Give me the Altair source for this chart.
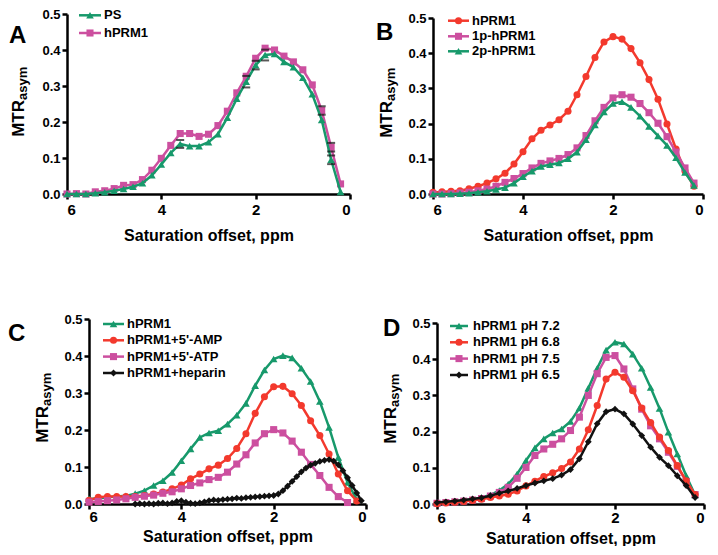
import altair as alt
import pandas as pd

# ---------------- data ----------------
X = [6.0, 5.8, 5.6, 5.4, 5.2, 5.0, 4.8, 4.6, 4.4, 4.2, 4.0, 3.8, 3.6, 3.4, 3.2,
     3.0, 2.8, 2.6, 2.4, 2.2, 2.0, 1.8, 1.6, 1.4, 1.2, 1.0, 0.8, 0.6, 0.4, 0.2]

# Panel A
A_PS = [0.000, 0.000, 0.000, 0.002, 0.005, 0.009, 0.014, 0.020, 0.030, 0.052, 0.082, 0.114, 0.139, 0.133, 0.133,
        0.144, 0.166, 0.212, 0.265, 0.312, 0.358, 0.386, 0.389, 0.367, 0.352, 0.323, 0.277, 0.206, 0.095, 0.006]
A_PS_ERR = [0, 0, 0, 0, 0, 0, 0, 0, 0, 0, 0, 0, 0.011, 0, 0,
            0, 0, 0, 0, 0.016, 0.012, 0.015, 0, 0, 0, 0, 0, 0, 0.012, 0]
A_HPRM1 = [0.000, 0.001, 0.000, 0.006, 0.009, 0.015, 0.024, 0.026, 0.040, 0.066, 0.099, 0.135, 0.168, 0.168, 0.160,
           0.166, 0.190, 0.230, 0.281, 0.327, 0.377, 0.405, 0.400, 0.383, 0.367, 0.345, 0.303, 0.232, 0.130, 0.028]
A_HPRM1_ERR = [0, 0, 0, 0, 0, 0, 0, 0, 0, 0, 0, 0, 0, 0, 0,
               0, 0, 0, 0, 0, 0, 0, 0, 0, 0, 0, 0, 0.012, 0.012, 0]

# Panel B
B_HPRM1 = [0.005, 0.006, 0.008, 0.009, 0.015, 0.022, 0.031, 0.043, 0.059, 0.085, 0.120, 0.157, 0.181, 0.196, 0.211,
           0.235, 0.282, 0.334, 0.388, 0.432, 0.447, 0.440, 0.413, 0.373, 0.325, 0.269, 0.199, 0.128, 0.065, 0.022]
B_1P = [0.000, 0.000, 0.001, 0.003, 0.005, 0.009, 0.014, 0.022, 0.033, 0.044, 0.058, 0.074, 0.087, 0.094, 0.101,
        0.112, 0.131, 0.166, 0.208, 0.246, 0.273, 0.282, 0.275, 0.257, 0.231, 0.201, 0.163, 0.119, 0.074, 0.031]
B_2P = [0.000, 0.000, 0.000, 0.001, 0.002, 0.005, 0.008, 0.013, 0.018, 0.031, 0.049, 0.065, 0.078, 0.083, 0.088,
        0.100, 0.119, 0.154, 0.196, 0.233, 0.257, 0.262, 0.246, 0.221, 0.192, 0.165, 0.138, 0.103, 0.061, 0.024]

# Panel C
C_HPRM1 = [0.014, 0.015, 0.018, 0.020, 0.022, 0.028, 0.036, 0.050, 0.063, 0.085, 0.117, 0.149, 0.180, 0.192, 0.198,
           0.216, 0.240, 0.272, 0.320, 0.362, 0.392, 0.401, 0.395, 0.367, 0.331, 0.277, 0.207, 0.126, 0.058, 0.012]
C_AMP = [0.010, 0.018, 0.020, 0.020, 0.020, 0.020, 0.023, 0.027, 0.032, 0.041, 0.051, 0.068, 0.081, 0.095, 0.105,
         0.123, 0.150, 0.190, 0.245, 0.290, 0.317, 0.318, 0.298, 0.266, 0.225, 0.185, 0.135, 0.081, 0.036, 0.008]
X_ATP = [6.0, 5.8, 5.6, 5.4, 5.2, 5.0, 4.8, 4.6, 4.4, 4.2, 4.0, 3.8, 3.6, 3.4, 3.2,
         3.0, 2.8, 2.6, 2.4, 2.2, 2.0, 1.8, 1.6, 1.4, 1.2, 1.0, 0.8, 0.6, 0.4]
C_ATP = [0.005, 0.007, 0.009, 0.011, 0.014, 0.018, 0.021, 0.024, 0.029, 0.033, 0.041, 0.050, 0.057, 0.066, 0.072,
         0.086, 0.108, 0.133, 0.165, 0.190, 0.201, 0.192, 0.170, 0.140, 0.107, 0.077, 0.045, 0.020, 0.004]
X_HEP = [5.0, 4.9, 4.8, 4.7, 4.6, 4.5, 4.4, 4.3, 4.2, 4.1, 4.0, 3.9, 3.8, 3.7, 3.6, 3.5, 3.4, 3.3, 3.2, 3.1,
         3.0, 2.9, 2.8, 2.7, 2.6, 2.5, 2.4, 2.3, 2.2, 2.1, 2.0, 1.9, 1.8, 1.7, 1.6, 1.5, 1.4, 1.3, 1.2, 1.1,
         1.0, 0.9, 0.8, 0.7, 0.6, 0.5, 0.4, 0.3, 0.2, 0.1]
C_HEP = [0.000, 0.001, 0.000, 0.001, 0.000, 0.002, 0.003, 0.001, 0.003, 0.007, 0.009, 0.005, 0.002, 0.001, 0.003,
         0.006, 0.009, 0.011, 0.010, 0.012, 0.013, 0.014, 0.016, 0.015, 0.017, 0.018, 0.019, 0.020, 0.021, 0.022,
         0.023, 0.027, 0.036, 0.048, 0.061, 0.074, 0.087, 0.097, 0.105, 0.110, 0.115, 0.118, 0.120, 0.116, 0.106,
         0.090, 0.071, 0.050, 0.030, 0.009]

# Panel D
D_72 = [0.003, 0.005, 0.007, 0.010, 0.013, 0.018, 0.025, 0.037, 0.055, 0.083, 0.120, 0.155, 0.180, 0.196, 0.207,
        0.228, 0.265, 0.320, 0.375, 0.425, 0.447, 0.442, 0.414, 0.375, 0.322, 0.264, 0.198, 0.138, 0.078, 0.025]
D_68 = [0.001, 0.003, 0.005, 0.007, 0.010, 0.013, 0.018, 0.022, 0.027, 0.036, 0.050, 0.063, 0.076, 0.086, 0.098,
        0.116, 0.152, 0.205, 0.272, 0.345, 0.364, 0.350, 0.313, 0.265, 0.225, 0.185, 0.148, 0.106, 0.064, 0.026]
D_75 = [0.002, 0.004, 0.006, 0.008, 0.011, 0.015, 0.022, 0.032, 0.046, 0.071, 0.101, 0.134, 0.152, 0.165, 0.180,
        0.203, 0.240, 0.300, 0.360, 0.405, 0.410, 0.373, 0.318, 0.262, 0.216, 0.180, 0.143, 0.104, 0.062, 0.026]
D_65 = [0.004, 0.006, 0.008, 0.011, 0.014, 0.017, 0.023, 0.030, 0.036, 0.043, 0.051, 0.058, 0.064, 0.070, 0.080,
        0.095, 0.125, 0.172, 0.222, 0.255, 0.262, 0.249, 0.221, 0.189, 0.157, 0.129, 0.106, 0.078, 0.051, 0.018]

Y_TICKS = [0.0, 0.1, 0.2, 0.3, 0.4, 0.5]
X_TICKS = [0, 2, 4, 6]

# ---------------- style ----------------
GREEN = "#17996b"
MAGENTA = "#cc4f9f"
RED = "#f3392d"
BLACK = "#111111"
FONT = "Liberation Sans"
DUMMY = pd.DataFrame({"d": [0]})


def encs(w, h, label_pad, title_pad, inset_x=0, inset_y=0):
    xenc = alt.X("x:Q", scale=alt.Scale(domain=[0, 6], reverse=True, nice=False, range=[inset_x, w]),
                 axis=alt.Axis(values=X_TICKS, format="d", title="Saturation offset, ppm",
                               labelPadding=label_pad, titlePadding=title_pad))
    yenc = alt.Y("y:Q", scale=alt.Scale(domain=[0, 0.5], nice=False, zero=False, range=[h, inset_y]),
                 axis=alt.Axis(values=Y_TICKS, format=".1f", title=None, offset=-inset_x))
    return xenc, yenc


def series(xs, ys, color, shape, size, xenc, yenc):
    df = pd.DataFrame({"x": xs, "y": ys})
    base = alt.Chart(df)
    line = base.mark_line(color=color, strokeWidth=2.5).encode(x=xenc, y=yenc)
    pts = base.mark_point(shape=shape, filled=True, fill=color, color=color, size=size,
                          opacity=1, strokeWidth=0).encode(x=xenc, y=yenc)
    return [line, pts]


def text_at(txt, x, y, size, align="left", baseline="alphabetic", angle=0):
    kw = dict(text=txt, font=FONT, fontSize=size, fontWeight="bold", color="black",
              align=align, baseline=baseline)
    if angle:
        kw["angle"] = angle
    return alt.Chart(DUMMY).mark_text(**kw).encode(x=alt.value(x), y=alt.value(y))


def legend(items, lx0, lx1, tx, ys):
    layers = []
    for (label, color, shape, size), y in zip(items, ys):
        layers.append(alt.Chart(DUMMY).mark_rule(color=color, strokeWidth=2.5).encode(
            x=alt.value(lx0), x2=alt.value(lx1), y=alt.value(y)))
        layers.append(alt.Chart(DUMMY).mark_point(shape=shape, filled=True, fill=color, color=color,
                                                  size=size, opacity=1, strokeWidth=0).encode(
            x=alt.value((lx0 + lx1) / 2), y=alt.value(y)))
        layers.append(text_at(label, tx, y, 13, baseline="middle"))
    return layers


def ytitle(yc, xb):
    return [text_at("MTR", xb, yc, 17, align="right", angle=270),
            text_at("asym", xb + 3, yc, 13, align="left", angle=270)]


TRI = ("triangle-up", 58)
SQ = ("square", 50)
CIR = ("circle", 50)
DIA = ("diamond", 46)

# ---------------- panel A ----------------
W_A, H_A = 283, 180
xe, ye = encs(W_A, H_A, 3, 10)
cap_rows = []
for xv, yv, ev in list(zip(X, A_PS, A_PS_ERR)) + list(zip(X, A_HPRM1, A_HPRM1_ERR)):
    if ev > 0:
        cap_rows.append({"x": xv, "y": yv - ev})
        cap_rows.append({"x": xv, "y": yv + ev})
caps = alt.Chart(pd.DataFrame(cap_rows)).mark_tick(
    color=BLACK, orient="horizontal", thickness=2, size=8).encode(x=xe, y=ye)

layers_A = []
layers_A += series(X, A_HPRM1, MAGENTA, *SQ, xe, ye)
layers_A += series(X, A_PS, GREEN, *TRI, xe, ye)
layers_A.append(caps)
layers_A += legend([("PS", GREEN, *TRI), ("hPRM1", MAGENTA, *SQ)], 12, 34, 37, [1.3, 19])
layers_A += ytitle(H_A / 2 - 4, -43)
layers_A.append(text_at("A", -58, 29, 24))
panel_A = alt.layer(*layers_A).properties(width=W_A, height=H_A)

# ---------------- panel B ----------------
W_B, H_B, IY_B = 270, 180, 4
xe, ye = encs(W_B, H_B, 3, 10, 0, IY_B)
layers_B = []
layers_B += series(X, B_HPRM1, RED, *CIR, xe, ye)
layers_B += series(X, B_1P, MAGENTA, *SQ, xe, ye)
layers_B += series(X, B_2P, GREEN, *TRI, xe, ye)
layers_B += legend([("hPRM1", RED, *CIR), ("1p-hPRM1", MAGENTA, *SQ), ("2p-hPRM1", GREEN, *TRI)],
                   15, 36, 39, [IY_B + 2.7, IY_B + 18.3, IY_B + 33.3])
layers_B += ytitle(IY_B + (H_B - IY_B) / 2 - 5, -41)
layers_B.append(text_at("B", -57, IY_B + 22, 24))
panel_B = alt.layer(*layers_B).properties(width=W_B, height=H_B)

# ---------------- panel C ----------------
IX_C = 22
W_C, H_C = IX_C + 277, 185
xe, ye = encs(W_C, H_C, 0, 4, IX_C, 0)
layers_C = []
layers_C += series(X, C_HPRM1, GREEN, *TRI, xe, ye)
layers_C += series(X, C_AMP, RED, *CIR, xe, ye)
layers_C += series(X_ATP, C_ATP, MAGENTA, *SQ, xe, ye)
layers_C += series(X_HEP, C_HEP, BLACK, *DIA, xe, ye)
layers_C += legend([("hPRM1", GREEN, *TRI), ("hPRM1+5'-AMP", RED, *CIR),
                    ("hPRM1+5'-ATP", MAGENTA, *SQ), ("hPRM1+heparin", BLACK, *DIA)],
                   IX_C + 14, IX_C + 35, IX_C + 38, [5, 21.3, 37.6, 54])
layers_C += ytitle(H_C / 2 - 5.5, IX_C - 41)
layers_C.append(text_at("C", IX_C - 81, 22, 24))
panel_C = alt.layer(*layers_C).properties(width=W_C, height=H_C)

# ---------------- panel D ----------------
W_D, H_D, IY_D = 267, 185, 4
xe, ye = encs(W_D, H_D, 1, 5, 0, IY_D)
layers_D = []
layers_D += series(X, D_72, GREEN, *TRI, xe, ye)
layers_D += series(X, D_75, MAGENTA, *SQ, xe, ye)
layers_D += series(X, D_68, RED, *CIR, xe, ye)
layers_D += series(X, D_65, BLACK, *DIA, xe, ye)
layers_D += legend([("hPRM1 pH 7.2", GREEN, *TRI), ("hPRM1 pH 6.8", RED, *CIR),
                    ("hPRM1 pH 7.5", MAGENTA, *SQ), ("hPRM1 pH 6.5", BLACK, *DIA)],
                   13, 31, 36, [IY_D + 3, IY_D + 19.3, IY_D + 35.6, IY_D + 52])
layers_D += ytitle(IY_D + (H_D - IY_D) / 2 - 6.5, -41)
layers_D.append(text_at("D", -54, IY_D + 13, 24))
panel_D = alt.layer(*layers_D).properties(width=W_D, height=H_D)

chart = alt.vconcat(
    alt.hconcat(panel_A, panel_B, spacing=24),
    alt.hconcat(panel_C, panel_D, spacing=14),
    spacing=70,
).properties(padding=0).configure_view(stroke=None).configure_axis(
    grid=False,
    domainColor="black", domainWidth=2.5,
    tickColor="black", tickWidth=2.5, tickSize=5,
    labelFont=FONT, labelFontWeight="bold", labelColor="black",
    titleFont=FONT, titleFontWeight="bold", titleColor="black", titleFontSize=16,
).configure_axisX(labelFontSize=15).configure_axisY(labelFontSize=13, labelPadding=2)

chart.save("out.html", embed_options={"renderer": "svg", "actions": False})
